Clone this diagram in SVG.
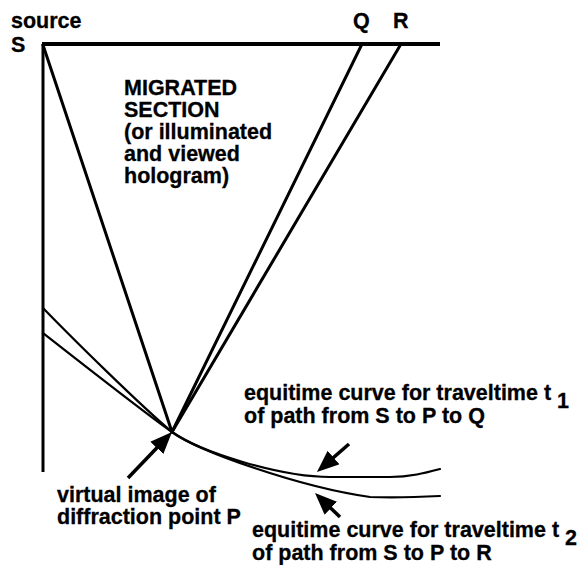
<svg xmlns="http://www.w3.org/2000/svg" width="585" height="565" viewBox="0 0 585 565">
<style>
text{font-family:"Liberation Sans",Arial,sans-serif;font-weight:bold;font-size:21.5px;fill:#000;stroke:#000;stroke-width:0.3}
.ray{stroke:#000;stroke-width:3;fill:none;stroke-linecap:round}
.curve{stroke:#000;stroke-width:2.2;fill:none;stroke-linecap:round;stroke-linejoin:round}
.arr{stroke:#000;stroke-width:3.5;fill:none;marker-end:url(#head)}
</style>
<defs>
<marker id="head" markerUnits="userSpaceOnUse" markerWidth="22" markerHeight="18" refX="12" refY="9" orient="auto" viewBox="0 0 22 18">
<path d="M0,0 L22,9 L0,18 Z" fill="#000"/>
</marker>
</defs>
<rect width="585" height="565" fill="#fff"/>
<g id="section-frame">
<line x1="42" y1="44" x2="440" y2="44" stroke="#000" stroke-width="4"/>
<line x1="43" y1="44" x2="43" y2="472" stroke="#000" stroke-width="3"/>
</g>
<g id="connectors">
<line class="ray" x1="43" y1="45" x2="172" y2="432"/>
<line class="ray" x1="172" y1="432" x2="362" y2="44"/>
<line class="ray" x1="172" y1="432" x2="401" y2="44"/>
<line class="arr" x1="128" y1="478" x2="165.1" y2="439.2"/>
<line class="arr" x1="349" y1="444" x2="324.5" y2="465.4"/>
<line class="arr" x1="340" y1="517" x2="322.2" y2="499.9"/>
</g>
<g id="curve-t1">
<path class="curve" d="M43,308 C72,338 140,405 172,432 C200,452 280,477 330,477 L390,477 C410,477 425,473 440,469"/>
</g>
<g id="curve-t2">
<path class="curve" d="M43,333 C80,362 145,413 172,432 C200,452 300,487 370,497 C400,498 420,497 440,496"/>
</g>
<g id="label-source"><text x="11" y="28">source</text><text x="11" y="52">S</text></g>
<g id="label-Q"><text x="353" y="28">Q</text></g>
<g id="label-R"><text x="393" y="28">R</text></g>
<g id="label-section">
<text x="124" y="95">MIGRATED</text>
<text x="124" y="117">SECTION</text>
<text x="124" y="139">(or illuminated</text>
<text x="124" y="161">and viewed</text>
<text x="124" y="183">hologram)</text>
</g>
<g id="label-P">
<text x="57" y="502">virtual image of</text>
<text x="57" y="524">diffraction point P</text>
</g>
<g id="label-t1">
<text x="244" y="400">equitime curve for traveltime t <tspan dy="8">1</tspan></text>
<text x="244" y="423">of path from S to P to Q</text>
</g>
<g id="label-t2">
<text x="252" y="537">equitime curve for traveltime t <tspan dy="8">2</tspan></text>
<text x="252" y="560">of path from S to P to R</text>
</g>
</svg>
